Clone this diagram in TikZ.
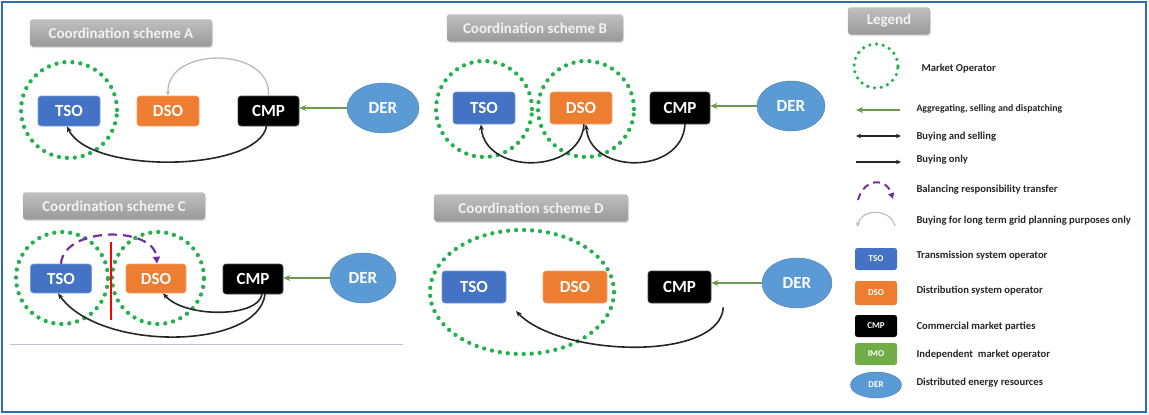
\documentclass[tikz,border=0pt]{standalone}
\usepackage{fontspec}
\setmainfont{Carlito}
\usepackage{tikz}
\usetikzlibrary{arrows.meta}
\usetikzlibrary{shapes.geometric}
\usetikzlibrary{shadows}
\definecolor{tsoblue}{HTML}{4472C4}
\definecolor{dsoorange}{HTML}{ED7D31}
\definecolor{derblue}{HTML}{5B9BD5}
\definecolor{imogreen}{HTML}{70AD47}
\definecolor{mogreen}{HTML}{22B14C}
\definecolor{agggreen}{HTML}{6A9A4A}
\definecolor{balpurple}{HTML}{7030A0}
\definecolor{framblue}{HTML}{2E6DB4}
\tikzset{
	actorstyle/.style={rectangle,rounded corners=3pt,minimum width=62pt,minimum height=30pt,text=white,font=\bfseries\fontsize{17}{19}\selectfont},
	tsostyle/.style={actorstyle,fill=tsoblue,draw=tsoblue!70!white,line width=0.6pt},
	dsostyle/.style={actorstyle,fill=dsoorange,draw=dsoorange!70!white,line width=0.6pt},
	cmpstyle/.style={actorstyle,fill=black,draw=black!70,line width=0.6pt},
	derstyle/.style={ellipse,fill=derblue,draw=derblue!80!black,line width=0.4pt,minimum width=70pt,minimum height=50pt,text=white,font=\bfseries\fontsize{17}{19}\selectfont},
	smallstyle/.style={rectangle,rounded corners=2.5pt,minimum width=42pt,minimum height=22pt,text=white,font=\bfseries\fontsize{9}{10}\selectfont},
	titlestyle/.style={rectangle,rounded corners=3pt,top color=gray!50,bottom color=gray!80,draw=gray!60,minimum height=27pt,text=white!90!gray,font=\bfseries\fontsize{15}{17}\selectfont,drop shadow={opacity=0.25,shadow xshift=1pt,shadow yshift=-1.5pt}},
	mostyle/.style={circle,draw=mogreen,line width=4.3pt,dash pattern=on 0pt off 8pt,line cap=round},
	moellstyle/.style={ellipse,draw=mogreen,line width=4.3pt,dash pattern=on 0pt off 8pt,line cap=round},
	aggstyle/.style={draw=agggreen,line width=2pt,-{Stealth[length=7pt,width=6pt]}},
	buystyle/.style={draw=black!85,line width=1.6pt,-{Stealth[length=6pt,width=5pt]}},
	planstyle/.style={draw=gray!55,line width=1.3pt,-{Stealth[length=5pt,width=4.5pt]}},
	balstyle/.style={draw=balpurple,line width=2.2pt,dash pattern=on 9pt off 6pt,-{Triangle[length=7pt,width=7pt]}},
	legstyle/.style={anchor=west,text=black!85,font=\bfseries\fontsize{10.6}{12}\selectfont}
}
\begin{document}
\begin{tikzpicture}[x=1pt,y=-1pt]
	\useasboundingbox (0,0) rectangle (1149,415);
	\draw[framblue,line width=2pt] (2,2) rectangle (1146,412);
	\draw[blue!25!gray!40,line width=1pt] (10,344) -- (403,344);

	% scheme A
	\node[titlestyle,minimum width=182pt] (titleA) at (121,33) {Coordination scheme A};
	\node[mostyle,minimum size=96pt] (moA) at (69,110) {};
	\node[tsostyle] (tsoA) at (69,111) {TSO};
	\node[dsostyle] (dsoA) at (168,111) {DSO};
	\node[cmpstyle,minimum width=61pt] (cmpA) at (268.5,111) {CMP};
	\node[derstyle,minimum width=72pt] (derA) at (383,108) {DER};
	\draw[aggstyle] (derA.west) -- (derA.west -| cmpA.east);
	\draw[planstyle] (cmpA.north) .. controls (272,46) and (166,46) .. (dsoA.north);
	\draw[buystyle] ([xshift=-2pt]cmpA.south) .. controls (258,172) and (90,175) .. ([xshift=-2pt]tsoA.south);

	% scheme B
	\node[titlestyle,minimum width=176pt] (titleB) at (535,28) {Coordination scheme B};
	\node[mostyle,minimum size=96pt] (moB1) at (484,109) {};
	\node[mostyle,minimum size=96pt] (moB2) at (586,109) {};
	\node[tsostyle,minimum height=32pt] (tsoB) at (484,108) {TSO};
	\node[dsostyle,minimum height=32pt] (dsoB) at (581,108) {DSO};
	\node[cmpstyle,minimum width=60pt,minimum height=32pt] (cmpB) at (680,108) {CMP};
	\node[derstyle,minimum width=68pt] (derB) at (791,106) {DER};
	\draw[aggstyle] (derB.west) -- (derB.west -| cmpB.east);
	\draw[buystyle] ([xshift=3pt]dsoB.south) .. controls (580,175) and (485,175) .. ([xshift=-3pt]tsoB.south);
	\draw[buystyle] ([xshift=5pt]cmpB.south) .. controls (682,175) and (590,175) .. ([xshift=5pt]dsoB.south);

	% scheme C
	\node[titlestyle,minimum width=182pt] (titleC) at (114,206) {Coordination scheme C};
	\node[mostyle,minimum size=92pt] (moC1) at (62,278) {};
	\node[mostyle,minimum size=92pt] (moC2) at (158,278) {};
	\node[tsostyle,minimum width=61pt,minimum height=29pt] (tsoC) at (61,278.5) {TSO};
	\node[dsostyle,minimum width=60pt,minimum height=29pt] (dsoC) at (156,278.5) {DSO};
	\node[cmpstyle,minimum width=60pt] (cmpC) at (253,279) {CMP};
	\node[derstyle,minimum width=66pt] (derC) at (363,278) {DER};
	\coordinate (cutTop) at (111,242);
	\coordinate (cutBot) at (111,320);
	\draw[red,line width=2.2pt] (cutTop) -- (cutBot);
	\draw[aggstyle] (derC.west) -- (derC.west -| cmpC.east);
	\draw[balstyle] (tsoC.north) .. controls (64,226) and (154,226) .. ([xshift=1pt]dsoC.north);
	\draw[buystyle] ([xshift=9pt]cmpC.south) .. controls (258,318) and (185,318) .. ([xshift=7pt]dsoC.south);
	\draw[buystyle] ([xshift=12pt]cmpC.south) .. controls (258,350) and (100,352) .. ([xshift=-3pt]tsoC.south);

	% scheme D
	\node[titlestyle,minimum width=194pt] (titleD) at (531,208) {Coordination scheme D};
	\node[moellstyle,minimum width=184pt,minimum height=124pt] (moD) at (522,292) {};
	\node[tsostyle,minimum width=64pt,minimum height=32pt] (tsoD) at (474,287) {TSO};
	\node[dsostyle,minimum width=64pt,minimum height=32pt] (dsoD) at (575,287) {DSO};
	\node[cmpstyle,minimum width=63pt,minimum height=32pt] (cmpD) at (679.5,287) {CMP};
	\node[derstyle] (derD) at (797,283) {DER};
	\coordinate (endD) at (516,311);
	\draw[aggstyle] (derD.west) -- (derD.west -| cmpD.east);
	\draw[buystyle] ([shift={(12,4)}]cmpD.south east) .. controls (720,362) and (560,357) .. (endD);

	% legend
	\node[titlestyle,minimum width=82pt] (titleL) at (889,21) {Legend};
	\node[mostyle,line width=3.6pt,dash pattern=on 0pt off 6.8pt,minimum size=44pt] (moL) at (876,66) {};
	\node[legstyle] (moT) at (918,69) {Market Operator};
	\coordinate (aggR) at (900,110);
	\coordinate (aggL) at (856,110);
	\draw[aggstyle] (aggR) -- (aggL);
	\node[legstyle,font=\bfseries\fontsize{9.8}{11}\selectfont] (aggT) at (913,109) {Aggregating, selling and dispatching};
	\coordinate (bsL) at (856,136);
	\coordinate (bsR) at (901,136);
	\draw[buystyle,line width=1.3pt,{Stealth[length=5pt,width=4.5pt]}-{Stealth[length=5pt,width=4.5pt]}] (bsL) -- (bsR);
	\node[legstyle] (bsT) at (913,137) {Buying and selling};
	\coordinate (boL) at (856,162);
	\coordinate (boR) at (901,162);
	\draw[buystyle,line width=1.3pt,-{Stealth[length=5pt,width=4.5pt]}] (boL) -- (boR);
	\node[legstyle] (boT) at (913,160) {Buying only};
	\coordinate (balL) at (858,200);
	\coordinate (balR) at (893,199);
	\draw[balstyle,line width=2pt,dash pattern=on 7pt off 5pt,-{Triangle[length=6pt,width=6pt]}] (balL) .. controls (864,178) and (886,177) .. (balR);
	\node[legstyle] (balT) at (913,190) {Balancing responsibility transfer};
	\coordinate (plR) at (895,226);
	\coordinate (plL) at (857,227);
	\draw[planstyle,line width=1.1pt] (plR) .. controls (890,208) and (862,208) .. (plL);
	\node[legstyle] (plT) at (913,221) {Buying for long term grid planning purposes only};
	\node[smallstyle,fill=tsoblue] (tsoL) at (876,259) {TSO};
	\node[legstyle] (tsoT) at (913,256) {Transmission system operator};
	\node[smallstyle,fill=dsoorange,minimum height=24pt] (dsoL) at (876,293) {DSO};
	\node[legstyle] (dsoT) at (913,291) {Distribution system operator};
	\node[smallstyle,fill=black] (cmpL) at (876,326) {CMP};
	\node[legstyle] (cmpT) at (913,327) {Commercial market parties};
	\node[smallstyle,fill=imogreen] (imoL) at (876,354) {IMO};
	\node[legstyle] (imoT) at (913,355) {Independent\ \ market operator};
	\node[derstyle,minimum width=51pt,minimum height=26pt,font=\bfseries\fontsize{9}{10}\selectfont] (derL) at (876,385) {DER};
	\node[legstyle] (derT) at (913,383) {Distributed energy resources};
\end{tikzpicture}
\end{document}
